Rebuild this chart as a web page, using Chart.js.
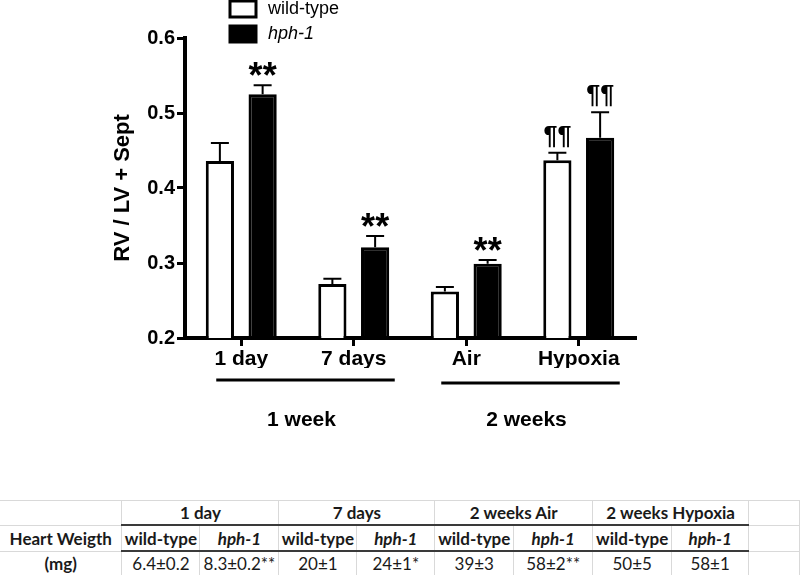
<!DOCTYPE html>
<html>
<head>
<meta charset="utf-8">
<script src="https://cdn.jsdelivr.net/npm/chart.js@4"></script>
<style>
  body { margin: 0; background: #fff; }
  #wrap { position: relative; width: 800px; height: 575px; overflow: hidden; }
  #myChart { position: absolute; left: 0; top: 0; }
  #heartTable { position: absolute; left: 0; top: 500px; border-collapse: collapse; table-layout: fixed;
    font-family: Lato, "Open Sans", sans-serif; font-size: 17px; color: #1a1a1a; }
  #heartTable td { border: 1px solid #d9d9d9; text-align: center; padding: 0; height: 23px; white-space: nowrap; overflow: hidden; }
  #heartTable td.b { font-weight: bold; }
  #heartTable td.i { font-weight: bold; font-style: italic; }
  #heartTable td.dk { border-bottom: 2px solid #3a3a3a; }
  #heartTable td.first { border-left: none; }
</style>
</head>
<body>
<div id="wrap">
  <canvas id="myChart" width="800" height="495"></canvas>
  <table id="heartTable"></table>
</div>
<script>
const categories = ['1 day', '7 days', 'Air', 'Hypoxia'];
const wildType = [0.436, 0.272, 0.262, 0.437];
const wildTypeErr = [0.024, 0.007, 0.006, 0.010];
const hph1 = [0.525, 0.321, 0.299, 0.467];
const hph1Err = [0.012, 0.015, 0.005, 0.034];
const wildTypeSig = ['', '', '', '¶¶'];
const hph1Sig = ['**', '**', '**', '¶¶'];
const yTicks = [0.2, 0.3, 0.4, 0.5, 0.6];
const groupNames = ['1 week', '2 weeks'];
const groupRanges = [[0, 1], [2, 3]];

// table data
const tableHeads = ['1 day', '7 days', '2 weeks Air', '2 weeks Hypoxia'];
const wtWeight = ['6.4±0.2', '20±1', '39±3', '50±5'];
const hphWeight = ['8.3±0.2**', '24±1*', '58±2**', '58±1'];

const FONT = '"Liberation Sans", Arial, sans-serif';

const extras = {
    id: 'extras',
    afterDatasetsDraw(chart) {
        let ctx = chart.ctx;
        let y = chart.scales.y;
        ctx.save();
        chart.data.datasets.forEach((ds, di) => {
            let meta = chart.getDatasetMeta(di);
            meta.data.forEach((bar, i) => {
                let top = y.getPixelForValue(ds.data[i] + ds.err[i]);
                ctx.strokeStyle = '#000';
                ctx.lineWidth = 2;
                ctx.beginPath();
                ctx.moveTo(bar.x, bar.y);
                ctx.lineTo(bar.x, top);
                ctx.moveTo(bar.x - 9, top);
                ctx.lineTo(bar.x + 9, top);
                ctx.stroke();
                let s = ds.sig[i];
                if (!s) return;
                ctx.fillStyle = '#000';
                ctx.textAlign = 'center';
                ctx.textBaseline = 'alphabetic';
                if (s === '**') {
                    ctx.font = 'bold 36px ' + FONT;
                    ctx.fillText(s, bar.x, top + 3);
                } else {
                    ctx.font = 'bold 25px ' + FONT;
                    ctx.fillText(s, bar.x, top - 9);
                }
            });
        });
        ctx.restore();
    },
    afterDraw(chart) {
        let ctx = chart.ctx;
        let x = chart.scales.x;
        ctx.save();
        // group lines under the x labels
        groupRanges.forEach((r, gi) => {
            let a = x.getPixelForValue(r[0]);
            let b = x.getPixelForValue(r[1]);
            let ly = gi === 0 ? 380 : 383;
            ctx.strokeStyle = '#000';
            ctx.lineWidth = 3;
            ctx.beginPath();
            ctx.moveTo(a - 25, ly);
            ctx.lineTo(b + 41, ly);
            ctx.stroke();
            ctx.fillStyle = '#000';
            ctx.font = 'bold 21px ' + FONT;
            ctx.textAlign = 'center';
            ctx.textBaseline = 'middle';
            ctx.fillText(groupNames[gi], (a + b) / 2 + 4, 420);
        });
        // legend
        chart.data.datasets.forEach((ds, di) => {
            let by = di === 0 ? 1 : 26;
            ctx.fillStyle = ds.backgroundColor;
            ctx.fillRect(230, by, 26, 16);
            ctx.strokeStyle = '#000';
            ctx.lineWidth = 3;
            ctx.strokeRect(230, by, 26, 16);
            ctx.fillStyle = '#000';
            ctx.font = (di === 1 ? 'italic ' : '') + '18px ' + FONT;
            ctx.textAlign = 'left';
            ctx.textBaseline = 'middle';
            ctx.fillText(ds.label, 268, by + 8);
        });
        ctx.restore();
    }
};

let ctx = document.getElementById('myChart').getContext('2d');
let myChart = new Chart(ctx, {
    type: 'bar',
    data: {
        labels: categories,
        datasets: [{
            label: 'wild-type',
            data: wildType,
            err: wildTypeErr,
            sig: wildTypeSig,
            backgroundColor: '#ffffff',
            borderColor: '#000000',
            borderWidth: 3,
            categoryPercentage: 0.76,
            barPercentage: 0.66
        }, {
            label: 'hph-1',
            data: hph1,
            err: hph1Err,
            sig: hph1Sig,
            backgroundColor: '#000000',
            borderColor: '#000000',
            borderWidth: 3,
            categoryPercentage: 0.76,
            barPercentage: 0.66
        }]
    },
    options: {
        responsive: false,
        animation: false,
        layout: { padding: { top: 38, right: 165, bottom: 127, left: 0 } },
        plugins: {
            legend: { display: false },
            tooltip: { enabled: false }
        },
        scales: {
            x: {
                afterFit: (s) => { s.height = 30; },
                border: { color: '#000', width: 4 },
                grid: { display: true, drawOnChartArea: false, drawTicks: true, tickLength: 8, offset: false, color: '#000', lineWidth: 3 },
                ticks: { color: '#000', font: { family: FONT, size: 21, weight: 'bold' }, padding: 1 }
            },
            y: {
                min: 0.2,
                max: 0.6,
                afterFit: (s) => { s.width = 185; },
                afterBuildTicks: (s) => { s.ticks = yTicks.map(v => ({ value: v })); },
                border: { color: '#000', width: 4 },
                grid: { display: true, drawOnChartArea: false, drawTicks: true, tickLength: 8, color: '#000', lineWidth: 3 },
                ticks: { color: '#000', font: { family: FONT, size: 20, weight: 'bold' }, padding: 2,
                    callback: (v) => v.toFixed(1) },
                title: { display: true, text: 'RV / LV + Sept', color: '#000', font: { family: FONT, size: 22, weight: 'bold' },
                    padding: { top: 110, bottom: 0 } }
            }
        }
    },
    plugins: [extras]
});

// table
let colW = [122, 78, 79, 78, 78, 79, 79, 79, 77, 51];
let html = '<colgroup>' + colW.map(w => '<col style="width:' + w + 'px">').join('') + '</colgroup>';
html += '<tr><td class="first"></td>' + tableHeads.map(h => '<td colspan="2" class="b dk">' + h + '</td>').join('') + '<td></td></tr>';
html += '<tr><td class="b first" style="height:25px">Heart Weigth</td>' + tableHeads.map(() => '<td class="b dk">wild-type</td><td class="i dk">hph-1</td>').join('') + '<td></td></tr>';
html += '<tr><td class="b first">(mg)</td>' + wtWeight.map((w, i) => '<td class="dk">' + w + '</td><td class="dk">' + hphWeight[i] + '</td>').join('') + '<td></td></tr>';
document.getElementById('heartTable').innerHTML = html;
</script>
</body>
</html>
